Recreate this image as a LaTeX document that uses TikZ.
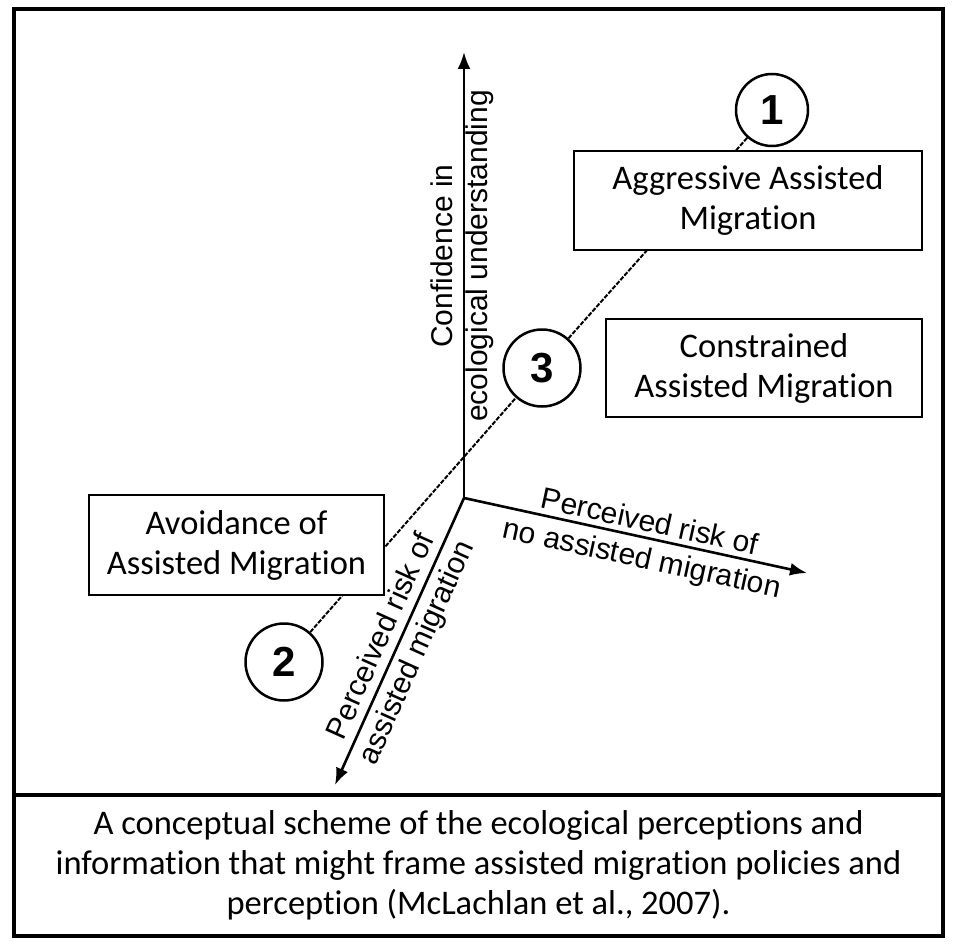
\documentclass[tikz,border=0pt]{standalone}
\usepackage{fontspec}
\setmainfont{Carlito}[Ligatures=CommonOff]
\newfontfamily\arialfont{Liberation Sans}
\usetikzlibrary{arrows.meta}
\begin{document}
\begin{tikzpicture}[x=1pt,y=-1pt,
  frameline/.style={line width=3.2pt},
  axisline/.style={line width=2.6pt,-{Latex[length=17pt,width=13pt]}},
  diagline/.style={line width=2pt,dash pattern=on 4.5pt off 1.5pt},
  numcirc/.style={circle,draw,line width=2.5pt,inner sep=0pt,minimum size=75pt,
    font=\arialfont\bfseries\fontsize{42}{44}\selectfont},
  labelbox/.style={rectangle,draw,line width=2.8pt,fill=white,inner sep=0pt,align=center,
    font=\fontsize{34.5}{40}\selectfont},
  axislabel/.style={align=center,inner sep=0pt},
  captiontext/.style={align=center,inner sep=0pt,font=\fontsize{34.5}{40}\selectfont}
]
\useasboundingbox (0,0) rectangle (956,950);
\fill[white] (0,0) rectangle (956,950);

% frame
\draw[frameline] (14,9) rectangle (943,936);
\draw[frameline] (14,795) -- (943,795);

% circles
\node[numcirc,minimum size=72pt] (c1) at (772,110) {1};
\node[numcirc,minimum size=77pt] (c3) at (542,368) {3};
\node[numcirc,minimum size=77pt] (c2) at (284,662) {2};

% diagonal line
\draw[diagline] (c2) -- (c3);
\draw[diagline] (c3) -- (c1);

% axes
\coordinate (O) at (464,498);
\coordinate (up) at (464,52);
\coordinate (right) at (807,573);
\coordinate (down) at (335,785);
\draw[axisline] (O) -- (up);
\draw[axisline] (O) -- (right);
\draw[axisline] (O) -- (down);

% axis labels
\node[axislabel,rotate=90,font=\arialfont\fontsize{30}{35}\selectfont] (lconf) at (462,256) {Confidence in\\ecological understanding};
\node[axislabel,rotate=-12.3,font=\arialfont\fontsize{30}{37}\selectfont] (lno) at (645.5,542) {Perceived risk of\\no assisted migration};
\node[axislabel,rotate=65.8,font=\arialfont\fontsize{30}{39}\selectfont] (lam) at (400,645) {Perceived risk of\\assisted migration};

% boxes
\node[labelbox,minimum width=348pt,minimum height=99pt] (aggr) at (748,200.5) {Aggressive Assisted\\Migration};
\node[labelbox,minimum width=316pt,minimum height=98pt] (cons) at (764,368) {Constrained\\Assisted Migration};
\node[labelbox,minimum width=295pt,minimum height=100pt] (avoid) at (236.5,545) {Avoidance of\\Assisted Migration};

% caption
\node[captiontext] (cap) at (478.5,865) {A conceptual scheme of the ecological perceptions and\\information that might frame assisted migration policies and\\perception (McLachlan et al., 2007).};
\end{tikzpicture}
\end{document}
